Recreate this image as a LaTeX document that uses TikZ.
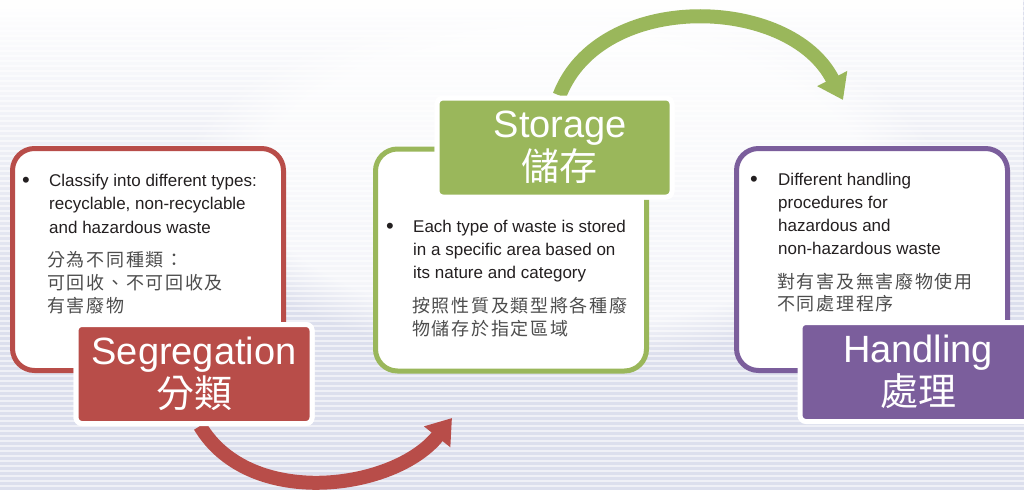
\documentclass[tikz,border=0pt]{standalone}
\usepackage{fontspec}
\setmainfont{Liberation Sans}
\newfontfamily\cjk[LetterSpace=9.5]{Noto Sans CJK TC}
\newfontfamily\cjklabel{Noto Sans CJK TC}
\usetikzlibrary{arrows.meta,fadings}
\definecolor{segred}{RGB}{184,77,73}
\definecolor{stogreen}{RGB}{154,183,91}
\definecolor{hanpurple}{RGB}{123,94,156}
\definecolor{bodytext}{RGB}{35,31,32}
\definecolor{cjktext}{RGB}{77,77,77}
\definecolor{bgblue}{RGB}{220,223,237}
\begin{document}
\begin{tikzpicture}[x=1pt,y=-1pt,
  panel/.style={draw=#1, line width=5pt, fill=white, rounded corners=22pt,
    minimum width=271pt, minimum height=222pt, inner sep=0pt},
  tag/.style={draw=white, line width=5pt, fill=#1, rounded corners=6pt,
    minimum width=236pt, minimum height=99pt, inner sep=0pt, text=white,
    align=center, font=\fontsize{38}{45}\selectfont},
  flow/.style={draw=#1, line width=14pt, -{Triangle[width=32pt,length=24pt]}},
  bullet/.style={anchor=base, inner sep=0pt, font=\fontsize{22}{23}\selectfont, text=bodytext},
  entext/.style={anchor=base west, inner sep=0pt, text=bodytext},
  zhtext/.style={anchor=base west, inner sep=0pt, text=cjktext}
]
\useasboundingbox (0,0) rectangle (1024,490);
\clip (0,0) rectangle (1024,490);
% background
\fill[bgblue] (0,0) rectangle (1024,490);
\foreach \yy in {0,5,...,490} {
  \fill[white, opacity=0.55] (0,\yy) rectangle (1024,\yy+2.2);
}
\fill[white, path fading=south] (0,0) rectangle (1024,300);
\fill[white, path fading=circle with fuzzy edge 20 percent, opacity=0.7] (560,180) ellipse (380pt and 180pt);

% panels
\node[panel=segred]    (segbox) at (148,259.5) {};
\node[panel=stogreen]  (stobox) at (511,260) {};
\node[panel=hanpurple] (hanbox) at (872,259.5) {};

% arrow end points
\coordinate (redtip) at (452,418);
\coordinate (greentip) at (843,100);

% labels (arrows start behind them)
\node[tag=segred] (seglabel) at (194,374) {};
\node[tag=stogreen, minimum width=235pt] (stolabel) at (554.5,147.5) {};
\draw[flow=segred] ([xshift=6pt]seglabel.south) .. controls (250,510) and (395,490) .. (redtip);
\draw[flow=stogreen] ([xshift=5pt]stolabel.north) .. controls (600,-10) and (790,-5) .. (greentip);

\node[tag=segred] (seglabelT) at (194,374) {Segregation\\[-2pt]{\cjklabel 分類}};
\node[tag=stogreen, minimum width=235pt] (stolabelT) at (554.5,147.5) {\hspace*{12pt}Storage\\[-2pt]\hspace*{10pt}{\cjklabel 儲存}};
\node[tag=hanpurple] (hanlabel) at (918,372) {Handling\\[-2pt]{\cjklabel 處理}};

% texts segregation
\node[bullet] (segbul) at (26,187) {\textbullet};
\node[entext] (segen) at (49,186) {\parbox[t]{235pt}{\fontsize{17}{23.5}\selectfont\raggedright
Classify into different types:\\recyclable, non-recyclable\\and hazardous waste}};
\node[zhtext] (segzh) at (47,266) {\parbox[t]{235pt}{\fontsize{18}{23}\cjk\raggedright
分為不同種類：\\可回收、不可回收及\\有害廢物}};

% texts storage
\node[bullet] (stobul) at (390,233) {\textbullet};
\node[entext] (stoen) at (413,232) {\parbox[t]{235pt}{\fontsize{17}{23}\selectfont\raggedright
Each type of waste is stored\\in a specific area based on\\its nature and category}};
\node[zhtext] (stozh) at (412,312) {\parbox[t]{235pt}{\fontsize{18}{23}\cjk\raggedright
按照性質及類型將各種廢\\物儲存於指定區域}};

% texts handling
\node[bullet] (hanbul) at (754,186) {\textbullet};
\node[entext] (hanen) at (778,185) {\parbox[t]{235pt}{\fontsize{17}{23.3}\selectfont\raggedright
Different handling\\procedures for\\hazardous and\\non-hazardous waste}};
\node[zhtext] (hanzh) at (777,288) {\parbox[t]{235pt}{\fontsize{18}{22}\cjk\raggedright
對有害及無害廢物使用\\不同處理程序}};
\end{tikzpicture}
\end{document}
